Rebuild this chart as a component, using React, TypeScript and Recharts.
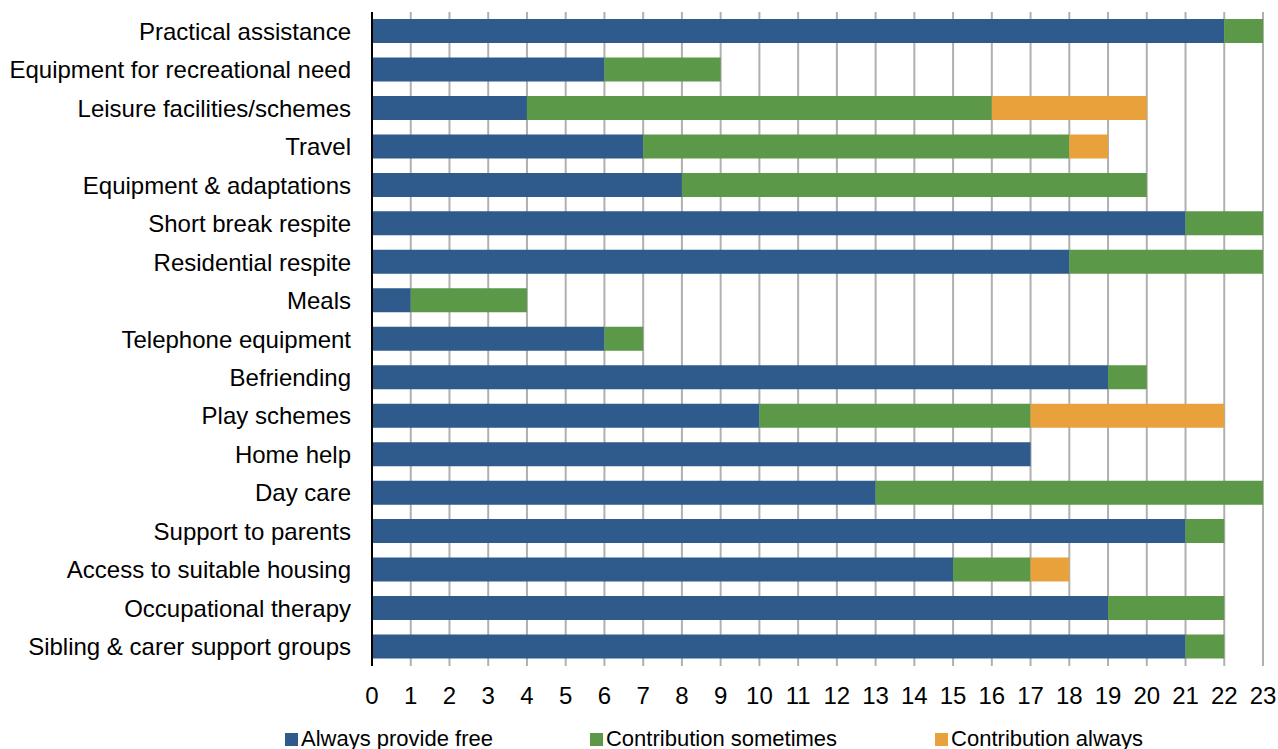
import { BarChart, Bar, XAxis, YAxis, CartesianGrid, Legend } from 'recharts';

const categories = [
  'Practical assistance',
  'Equipment for recreational need',
  'Leisure facilities/schemes',
  'Travel',
  'Equipment & adaptations',
  'Short break respite',
  'Residential respite',
  'Meals',
  'Telephone equipment',
  'Befriending',
  'Play schemes',
  'Home help',
  'Day care',
  'Support to parents',
  'Access to suitable housing',
  'Occupational therapy',
  'Sibling & carer support groups',
];

const alwaysFree = [22, 6, 4, 7, 8, 21, 18, 1, 6, 19, 10, 17, 13, 21, 15, 19, 21];
const contribSometimes = [1, 3, 12, 11, 12, 2, 5, 3, 1, 1, 7, 0, 10, 1, 2, 3, 1];
const contribAlways = [0, 0, 4, 1, 0, 0, 0, 0, 0, 0, 5, 0, 0, 0, 1, 0, 0];

const xTicks = Array.from({ length: 24 }, (_, i) => i);

const seriesInfo = [
  { key: 'free', name: 'Always provide free', color: '#2e5a8c' },
  { key: 'sometimes', name: 'Contribution sometimes', color: '#5b9848' },
  { key: 'always', name: 'Contribution always', color: '#e9a13c' },
];

const data = categories.map((name, i) => ({
  name,
  free: alwaysFree[i],
  sometimes: contribSometimes[i],
  always: contribAlways[i],
}));

const FONT = '"Liberation Sans", Arial, sans-serif';

function LegendBox() {
  const gaps = [97, 98, 0];
  return (
    <div style={{ display: 'flex', fontFamily: FONT, fontSize: 22, color: '#000', lineHeight: '24px' }}>
      {seriesInfo.map((s, i) => (
        <div key={s.key} style={{ display: 'flex', alignItems: 'center', marginRight: gaps[i] }}>
          <span style={{ width: 13, height: 13, background: s.color, display: 'inline-block', marginRight: 3 }} />
          <span>{s.name}</span>
        </div>
      ))}
    </div>
  );
}

export default function App() {
  return (
    <div style={{ position: 'absolute', left: 0, top: 0, background: '#fff' }}>
      <BarChart
        width={1278}
        height={749}
        data={data}
        layout="vertical"
        margin={{ top: 12, right: 15, bottom: 29, left: 0 }}
        barSize={24}
      >
        <CartesianGrid horizontal={false} stroke="#b0b0b0" strokeWidth={2} />
        <XAxis
          type="number"
          domain={[0, 23]}
          ticks={xTicks}
          interval={0}
          axisLine={false}
          tickLine={false}
          tickSize={0}
          tickMargin={21}
          tick={{ fontSize: 24, fill: '#000', fontFamily: FONT }}
        />
        <YAxis
          type="category"
          dataKey="name"
          width={372}
          axisLine={{ stroke: '#000', strokeWidth: 2 }}
          tickLine={false}
          tickSize={0}
          tickMargin={21}
          interval={0}
          tick={{ fontSize: 24, fill: '#000', fontFamily: FONT }}
        />
        <Legend
          verticalAlign="bottom"
          content={() => <LegendBox />}
          wrapperStyle={{ left: 285, bottom: -2, width: 'auto' }}
        />
        {seriesInfo.map((s) => (
          <Bar key={s.key} dataKey={s.key} name={s.name} stackId="a" fill={s.color} isAnimationActive={false} />
        ))}
      </BarChart>
    </div>
  );
}
